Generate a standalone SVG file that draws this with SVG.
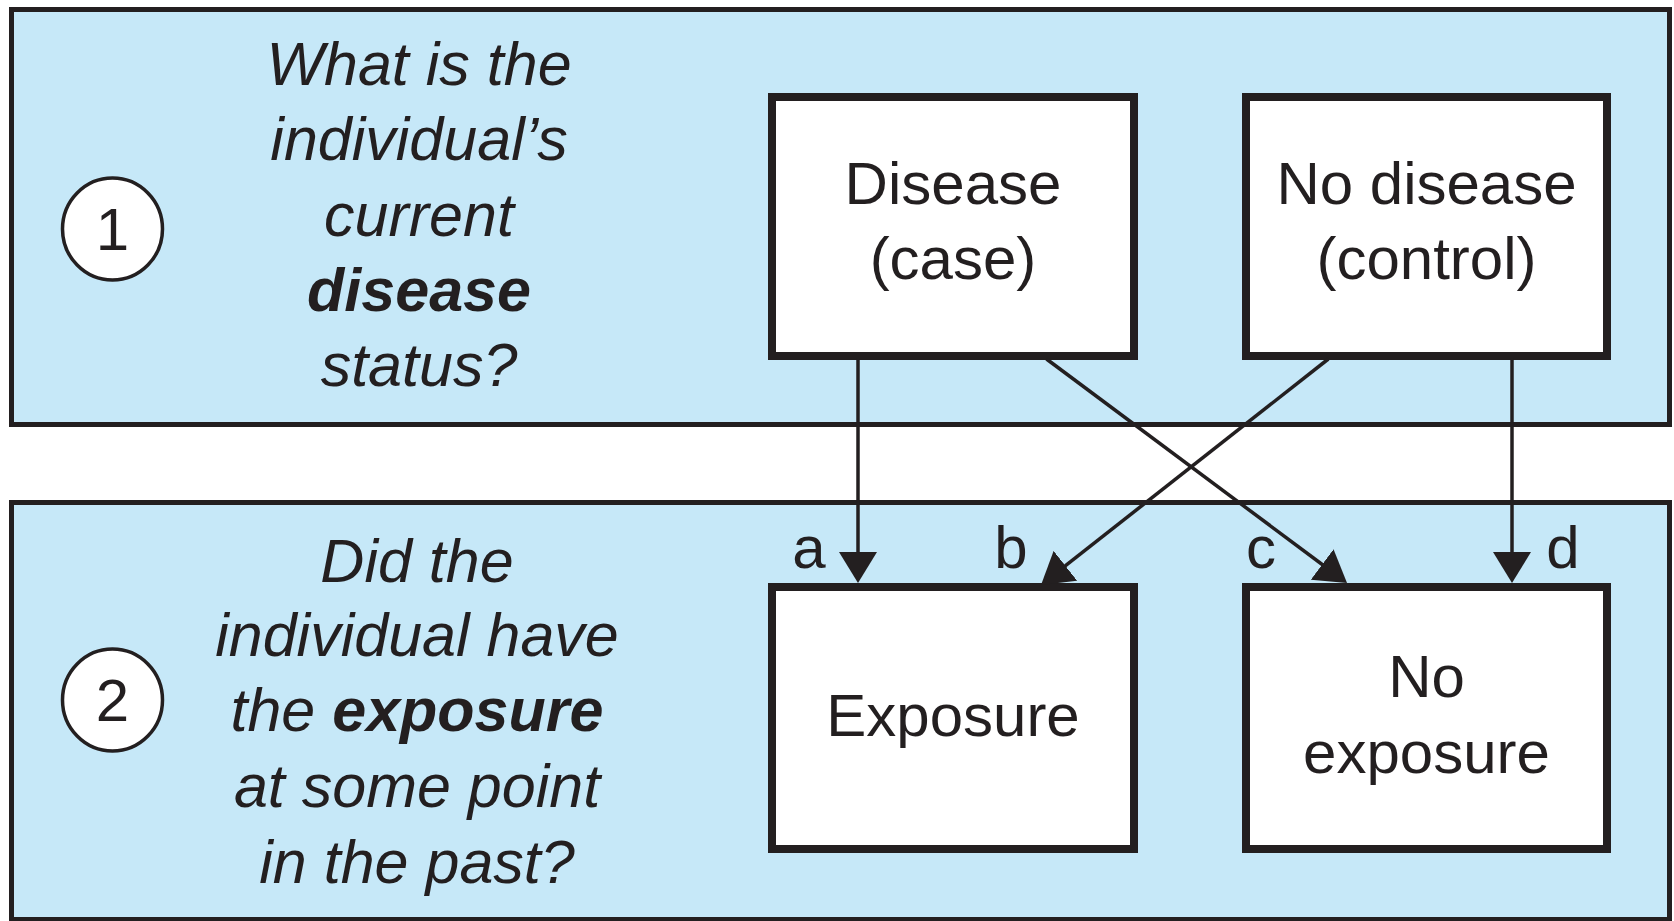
<svg xmlns="http://www.w3.org/2000/svg" width="1674" height="921" viewBox="0 0 1674 921">
<style>
.panel{fill:#c6e8f8;stroke:#231f20;stroke-width:5}
.box{fill:#ffffff;stroke:#231f20;stroke-width:8}
.num{fill:#ffffff;stroke:#231f20;stroke-width:3.5}
text{font-family:"Liberation Sans",Arial,Helvetica,sans-serif;fill:#231f20;text-anchor:middle}
.q{font-size:61px;font-style:italic}
.b{font-weight:bold}
.t{font-size:60px}
.lbl{font-size:60px}
.conn{stroke:#231f20;stroke-width:3.5;fill:none}
</style>
<defs>
<marker id="arr" viewBox="0 0 31 38" refX="16" refY="19" markerWidth="31" markerHeight="38" markerUnits="userSpaceOnUse" orient="auto">
<path d="M0,0 L31,19 L0,38 z" fill="#231f20"/>
</marker>
</defs>
<rect width="1674" height="921" fill="#ffffff"/>
<g id="panel1">
<rect class="panel" x="11.5" y="9.5" width="1658" height="415"/>
<ellipse class="num" cx="112.5" cy="229" rx="50" ry="51"/>
<text class="t" x="112.5" y="250">1</text>
<text class="q" x="419" y="85">What is the</text>
<text class="q" x="419" y="160">individual’s</text>
<text class="q" x="419" y="236">current</text>
<text class="q b" x="419" y="311">disease</text>
<text class="q" x="419" y="386">status?</text>
</g>
<g id="panel2">
<rect class="panel" x="11.5" y="502.5" width="1658" height="417"/>
<ellipse class="num" cx="112.5" cy="700" rx="50" ry="51"/>
<text class="t" x="112.5" y="721">2</text>
<text class="q" x="417" y="582">Did the</text>
<text class="q" x="417" y="656">individual have</text>
<text class="q" x="417" y="731">the <tspan class="b">exposure</tspan></text>
<text class="q" x="417" y="807">at some point</text>
<text class="q" x="417" y="883">in the past?</text>
</g>
<g id="node-disease">
<rect class="box" x="772" y="97" width="362" height="259"/>
<text class="t" x="953" y="204">Disease</text>
<text class="t" x="953" y="279">(case)</text>
</g>
<g id="node-nodisease">
<rect class="box" x="1246" y="97" width="361" height="259"/>
<text class="t" x="1426.5" y="204">No disease</text>
<text class="t" x="1426.5" y="279">(control)</text>
</g>
<g id="node-exposure">
<rect class="box" x="772" y="587" width="362" height="262"/>
<text class="t" x="953" y="736">Exposure</text>
</g>
<g id="node-noexposure">
<rect class="box" x="1246" y="587" width="361" height="262"/>
<text class="t" x="1426.5" y="697">No</text>
<text class="t" x="1426.5" y="773">exposure</text>
</g>
<g id="connectors">
<line class="conn" x1="858" y1="358" x2="858" y2="568" marker-end="url(#arr)"/>
<line class="conn" x1="1512" y1="358" x2="1512" y2="568" marker-end="url(#arr)"/>
<line class="conn" x1="1046.5" y1="359" x2="1335" y2="574" marker-end="url(#arr)"/>
<line class="conn" x1="1328.3" y1="359" x2="1052.8" y2="575.7" marker-end="url(#arr)"/>
<text class="lbl" x="809" y="568">a</text>
<text class="lbl" x="1011" y="568">b</text>
<text class="lbl" x="1261" y="568">c</text>
<text class="lbl" x="1563" y="568">d</text>
</g>
</svg>
